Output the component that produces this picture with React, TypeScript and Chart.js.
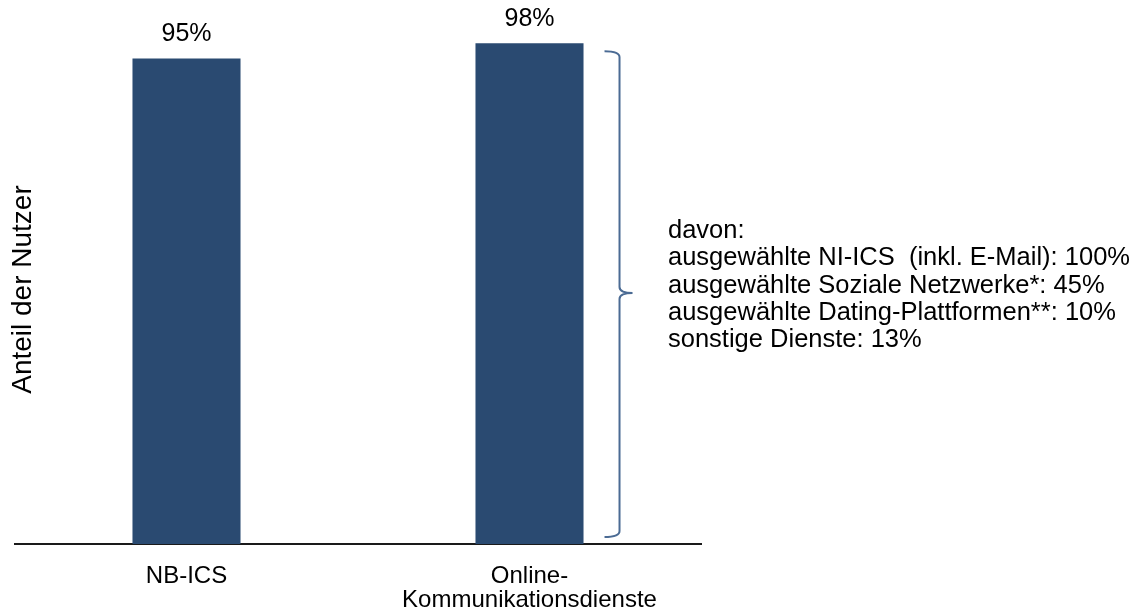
import React, { useEffect, useRef } from "react";
import { Chart, registerables } from "chart.js";

Chart.register(...registerables);

const categories: string[][] = [["NB-ICS"], ["Online-", "Kommunikationsdienste"]];
const shares: number[] = [95, 98];
const yAxisTitle = "Anteil der Nutzer";
const breakdownLines: string[] = [
  "davon:",
  "ausgewählte NI-ICS  (inkl. E-Mail): 100%",
  "ausgewählte Soziale Netzwerke*: 45%",
  "ausgewählte Dating-Plattformen**: 10%",
  "sonstige Dienste: 13%",
];

const FONT = "'Liberation Sans', Arial, sans-serif";
const BAR_COLOR = "#2A4A71";
const BRACKET_COLOR = "#4B6B94";

const overlayPlugin = {
  id: "overlay",
  afterDraw(chart: any) {
    const ctx = chart.ctx as CanvasRenderingContext2D;
    const meta = chart.getDatasetMeta(0);
    const yScale = chart.scales.y;
    ctx.save();
    // value labels
    ctx.fillStyle = "#000";
    ctx.font = `25px ${FONT}`;
    ctx.textAlign = "center";
    ctx.textBaseline = "middle";
    meta.data.forEach((bar: any, i: number) => {
      ctx.fillText(`${shares[i]}%`, bar.x, bar.y - 24);
    });
    // y axis title
    ctx.save();
    ctx.translate(23, (chart.chartArea.top + chart.chartArea.bottom) / 2 + 1);
    ctx.rotate(-Math.PI / 2);
    ctx.font = `28px ${FONT}`;
    ctx.fillText(yAxisTitle, 0, 0);
    ctx.restore();
    // bracket next to second bar
    const bar2 = meta.data[1] as any;
    const right = bar2.x + bar2.width / 2;
    const vx = right + 36;
    const hookX = right + 21;
    const top = yScale.getPixelForValue(shares[1]) + 8;
    const bottom = yScale.getPixelForValue(0) - 7;
    const mid = (top + bottom) / 2 - 1;
    ctx.strokeStyle = BRACKET_COLOR;
    ctx.lineWidth = 2;
    ctx.lineJoin = "round";
    ctx.beginPath();
    ctx.moveTo(hookX, top);
    ctx.quadraticCurveTo(vx, top, vx, top + 6);
    ctx.lineTo(vx, mid - 6);
    ctx.quadraticCurveTo(vx, mid, vx + 13, mid);
    ctx.moveTo(vx + 13, mid);
    ctx.quadraticCurveTo(vx, mid, vx, mid + 6);
    ctx.lineTo(vx, bottom - 6);
    ctx.quadraticCurveTo(vx, bottom, hookX, bottom);
    ctx.stroke();
    // breakdown text
    ctx.fillStyle = "#000";
    ctx.font = `25.5px ${FONT}`;
    ctx.textAlign = "left";
    ctx.textBaseline = "middle";
    const startY = 231;
    breakdownLines.forEach((line, i) => {
      ctx.fillText(line, 668, startY + i * 27.3);
    });
    ctx.restore();
  },
};

export default function App() {
  const canvasRef = useRef<HTMLCanvasElement | null>(null);
  useEffect(() => {
    if (!canvasRef.current) return;
    const chart = new Chart(canvasRef.current, {
      type: "bar",
      data: {
        labels: categories,
        datasets: [
          {
            data: shares,
            backgroundColor: BAR_COLOR,
            borderWidth: 0,
            categoryPercentage: 1,
            barPercentage: 0.315,
          },
        ],
      },
      options: {
        responsive: false,
        animation: false,
        layout: { padding: { left: 15, right: 444, top: 33, bottom: 0 } },
        plugins: {
          legend: { display: false },
          tooltip: { enabled: false },
        },
        scales: {
          x: {
            display: true,
            grid: { display: false, drawTicks: false },
            border: { display: true, color: "#1a1a1a", width: 2 },
            ticks: {
              color: "#000",
              padding: 20,
              font: { family: FONT, size: 24, lineHeight: 1.0 },
              maxRotation: 0,
              autoSkip: false,
            },
            afterFit(scale: any) {
              scale.height = 72;
            },
          },
          y: {
            display: false,
            min: 0,
            max: 100,
          },
        },
      },
      plugins: [overlayPlugin],
    });
    return () => chart.destroy();
  }, []);
  return (
    <div style={{ position: "absolute", left: 0, top: 0, width: 1145, height: 616, background: "#fff" }}>
      <canvas ref={canvasRef} width={1145} height={616} style={{ display: "block" }} />
    </div>
  );
}
